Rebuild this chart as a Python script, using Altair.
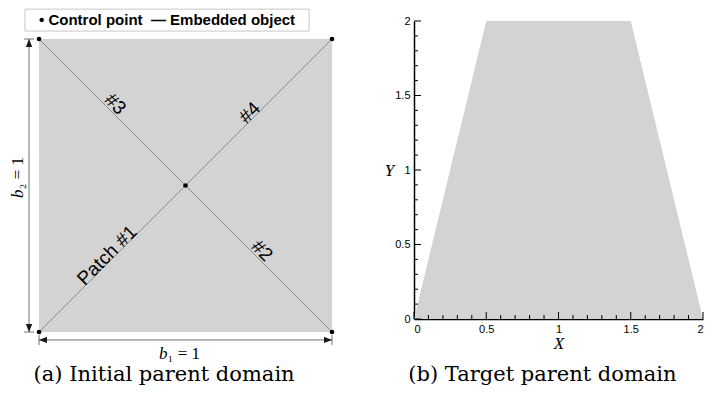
import altair as alt
import pandas as pd

# ---------------- data ----------------
# (a) initial parent domain (unit square, parametric coordinates)
square_x = [0, 1]
square_y = [0, 1]
ctrl_x = [0, 1, 0, 1, 0.5]
ctrl_y = [0, 0, 1, 1, 0.5]
diag_x = [0, 0]
diag_y = [0, 1]
diag_x2 = [1, 1]
diag_y2 = [1, 0]
patch_up_text = ["Patch #1", "#4"]
patch_up_x = [0.247, 0.734]
patch_up_y = [0.247, 0.734]
patch_dn_text = ["#3", "#2"]
patch_dn_x = [0.241, 0.742]
patch_dn_y = [0.759, 0.258]
dim_v_x = -0.034      # vertical dimension line (b2)
dim_h_y = -0.027      # horizontal dimension line (b1)
dim_ends = [0, 1]
b2_label_x = -0.072
b1_label_y = -0.075
legend_box_x = [-0.048, 0.922]
legend_box_y = [1.027, 1.102]
legend_text = "\u2022\u00a0Control point\u00a0\u00a0\u2014\u00a0Embedded object"
legend_text_xy = [0.437, 1.066]
caption_a = "(a) Initial parent domain"
caption_a_xy = [0.427, -0.147]

# (b) target parent domain
target_x = [0, 0.5, 1.5, 2]
target_y = [0, 2, 2, 0]
major_ticks = [0, 0.5, 1, 1.5, 2]
minor_ticks = [0.1, 0.2, 0.3, 0.4, 0.6, 0.7, 0.8, 0.9,
               1.1, 1.2, 1.3, 1.4, 1.6, 1.7, 1.8, 1.9]
caption_b = "(b) Target parent domain"
caption_b_xy = [0.889, -0.376]

# ---------------- left panel ----------------
KL = 293.0
WL, HL = 356, 376
xsL = alt.Scale(domain=[-30 / KL, (WL - 30) / KL], nice=False, zero=False)
ysL = alt.Scale(domain=[1 + 31 / KL - HL / KL, 1 + 31 / KL], nice=False, zero=False)


def XL(f):
    return alt.X(f, type="quantitative", scale=xsL, axis=None)


def YL(f):
    return alt.Y(f, type="quantitative", scale=ysL, axis=None)


GREY_FILL = "#d3d3d3"
DIM = "#707070"
SANS = "Liberation Sans, Arial, sans-serif"
SERIF = "Liberation Serif, Times New Roman, serif"

sq_df = pd.DataFrame({"x": [square_x[0]], "x2": [square_x[1]],
                      "y": [square_y[0]], "y2": [square_y[1]]})
square = alt.Chart(sq_df).mark_rect(color=GREY_FILL).encode(
    x=XL("x"), x2="x2", y=YL("y"), y2="y2")

diag_df = pd.DataFrame({"x": diag_x, "y": diag_y, "x2": diag_x2, "y2": diag_y2})
diags = alt.Chart(diag_df).mark_rule(color="#858585", strokeWidth=0.9).encode(
    x=XL("x"), y=YL("y"), x2="x2", y2="y2")

dimv_df = pd.DataFrame({"x": [dim_v_x], "y": [dim_ends[0]], "y2": [dim_ends[1]]})
dimv = alt.Chart(dimv_df).mark_rule(color=DIM, strokeWidth=1).encode(
    x=XL("x"), y=YL("y"), y2="y2")
dimh_df = pd.DataFrame({"y": [dim_h_y], "x": [dim_ends[0]], "x2": [dim_ends[1]]})
dimh = alt.Chart(dimh_df).mark_rule(color=DIM, strokeWidth=1).encode(
    y=YL("y"), x=XL("x"), x2="x2")

endv_df = pd.DataFrame({"x": [dim_v_x, dim_v_x], "y": dim_ends})
endv = alt.Chart(endv_df).mark_tick(orient="horizontal", size=10, thickness=1,
                                    color=DIM, opacity=1).encode(x=XL("x"), y=YL("y"))
endh_df = pd.DataFrame({"x": dim_ends, "y": [dim_h_y, dim_h_y]})
endh = alt.Chart(endh_df).mark_tick(orient="vertical", size=10, thickness=1,
                                    color=DIM, opacity=1).encode(x=XL("x"), y=YL("y"))

ARROW = "#1a1a1a"


def arrow(xv, yv, shape, **off):
    df = pd.DataFrame({"x": [xv], "y": [yv]})
    return alt.Chart(df).mark_point(shape=shape, filled=True, size=64, color=ARROW,
                                    opacity=1, strokeWidth=0, **off).encode(
        x=XL("x"), y=YL("y"))


arr_up = arrow(dim_v_x, dim_ends[1], "M0,-1L-0.8,1L0.8,1Z", yOffset=4)
arr_dn = arrow(dim_v_x, dim_ends[0], "M0,1L-0.8,-1L0.8,-1Z", yOffset=-4)
arr_lf = arrow(dim_ends[0], dim_h_y, "M-1,0L1,-0.8L1,0.8Z", xOffset=4)
arr_rt = arrow(dim_ends[1], dim_h_y, "M1,0L-1,-0.8L-1,0.8Z", xOffset=-4)

ctrl_df = pd.DataFrame({"x": ctrl_x, "y": ctrl_y})
ctrl = alt.Chart(ctrl_df).mark_circle(size=22, color="black", opacity=1).encode(
    x=XL("x"), y=YL("y"))

pu_df = pd.DataFrame({"t": patch_up_text, "x": patch_up_x, "y": patch_up_y})
pu = alt.Chart(pu_df).mark_text(angle=315, align="center", baseline="middle", dy=-6,
                                font=SANS, fontSize=19, color="black").encode(
    x=XL("x"), y=YL("y"), text="t:N")
pd_df = pd.DataFrame({"t": patch_dn_text, "x": patch_dn_x, "y": patch_dn_y})
pdn = alt.Chart(pd_df).mark_text(angle=45, align="center", baseline="middle", dy=-8,
                                 font=SANS, fontSize=19, color="black").encode(
    x=XL("x"), y=YL("y"), text="t:N")

b1_df = pd.DataFrame({"x": [0.5], "y": [b1_label_y]})
b1a = alt.Chart(b1_df).mark_text(text="b", align="right", baseline="middle", dx=-18,
                                 font=SERIF, fontStyle="italic", fontSize=17,
                                 color="black").encode(x=XL("x"), y=YL("y"))
b1b = alt.Chart(b1_df).mark_text(text="\u2081 = 1", align="left", baseline="middle", dx=-18,
                                 font=SERIF, fontSize=17, color="black").encode(
    x=XL("x"), y=YL("y"))
b2_df = pd.DataFrame({"x": [b2_label_x], "y": [0.5]})
b2a = alt.Chart(b2_df).mark_text(text="b", align="right", baseline="middle", dx=-4, angle=270,
                                 font=SERIF, fontStyle="italic", fontSize=17,
                                 color="black").encode(x=XL("x"), y=YL("y"))
b2b = alt.Chart(b2_df).mark_text(text="\u2082 = 1", align="left", baseline="middle", dx=-4,
                                 angle=270, font=SERIF, fontSize=17, color="black").encode(
    x=XL("x"), y=YL("y"))

lg_df = pd.DataFrame({"x": [legend_box_x[0]], "x2": [legend_box_x[1]],
                      "y": [legend_box_y[0]], "y2": [legend_box_y[1]]})
lg_box = alt.Chart(lg_df).mark_rect(fill="white", stroke="#c8c8c8", strokeWidth=1).encode(
    x=XL("x"), x2="x2", y=YL("y"), y2="y2")
lgt_df = pd.DataFrame({"x": [legend_text_xy[0]], "y": [legend_text_xy[1]], "t": [legend_text]})
lg_text = alt.Chart(lgt_df).mark_text(align="center", baseline="middle", font=SANS,
                                      fontWeight="bold", fontSize=15, color="black").encode(
    x=XL("x"), y=YL("y"), text="t:N")

capa_df = pd.DataFrame({"x": [caption_a_xy[0]], "y": [caption_a_xy[1]], "t": [caption_a]})
cap_a = alt.Chart(capa_df).mark_text(align="center", baseline="middle", font="DejaVu Serif",
                                     fontSize=21, color="black").encode(
    x=XL("x"), y=YL("y"), text="t:N")

left = alt.layer(square, diags, dimv, dimh, endv, endh, arr_up, arr_dn, arr_lf, arr_rt,
                 ctrl, pu, pdn, b1a, b1b, b2a, b2b, lg_box, lg_text, cap_a).properties(
    width=WL, height=HL)

# ---------------- right panel ----------------
WR, HR = 289, 311
xsR = alt.Scale(domain=[0, 2], nice=False, zero=False)
ysR = alt.Scale(domain=[0, 2], range=[HR, 13], nice=False, zero=False)
common_axis = dict(values=major_ticks, format="~g", ticks=False, grid=False,
                   domainColor="black", domainWidth=1.5, labelFont=SANS,
                   labelFontSize=11, labelColor="black", labelPadding=4,
                   titleFont=SERIF, titleFontStyle="italic", titleFontWeight="normal",
                   titleFontSize=17, titleColor="black")
x_axis = alt.Axis(title="X", titleY=24, titleBaseline="middle", labelFlush=True,
                  **common_axis)
y_axis = alt.Axis(title="Y", titleAngle=0, titleX=-25, titleY=162, titleAlign="center",
                  titleBaseline="middle", labelFlush=False, **common_axis)


def XR(f):
    return alt.X(f, type="quantitative", scale=xsR, axis=x_axis)


def YR(f):
    return alt.Y(f, type="quantitative", scale=ysR, axis=y_axis)


tg_df = pd.DataFrame({"x": target_x, "y": target_y})
area = alt.Chart(tg_df).mark_area(color=GREY_FILL, opacity=1).encode(x=XR("x"), y=YR("y"))

maj_df = pd.DataFrame({"v": major_ticks})
min_df = pd.DataFrame({"v": minor_ticks})
ty_maj = alt.Chart(maj_df).mark_rule(color="black", strokeWidth=1).encode(
    y=YR("v"), x=alt.value(0), x2=alt.value(7))
ty_min = alt.Chart(min_df).mark_rule(color="black", strokeWidth=1).encode(
    y=YR("v"), x=alt.value(0), x2=alt.value(4))
tx_maj = alt.Chart(maj_df).mark_rule(color="black", strokeWidth=1).encode(
    x=XR("v"), y=alt.value(HR), y2=alt.value(HR - 7))
tx_min = alt.Chart(min_df).mark_rule(color="black", strokeWidth=1).encode(
    x=XR("v"), y=alt.value(HR), y2=alt.value(HR - 4))

capb_df = pd.DataFrame({"x": [caption_b_xy[0]], "y": [caption_b_xy[1]], "t": [caption_b]})
cap_b = alt.Chart(capb_df).mark_text(align="center", baseline="middle", font="DejaVu Serif",
                                     fontSize=21, color="black").encode(
    x=XR("x"), y=YR("y"), text="t:N")

right = alt.layer(area, ty_maj, ty_min, tx_maj, tx_min, cap_b).properties(width=WR, height=HR)

chart = alt.hconcat(left, right, spacing=49, bounds="flush").properties(
    padding=0).configure_view(stroke=None)

chart.save("out.html", embed_options={"renderer": "svg", "actions": False})
